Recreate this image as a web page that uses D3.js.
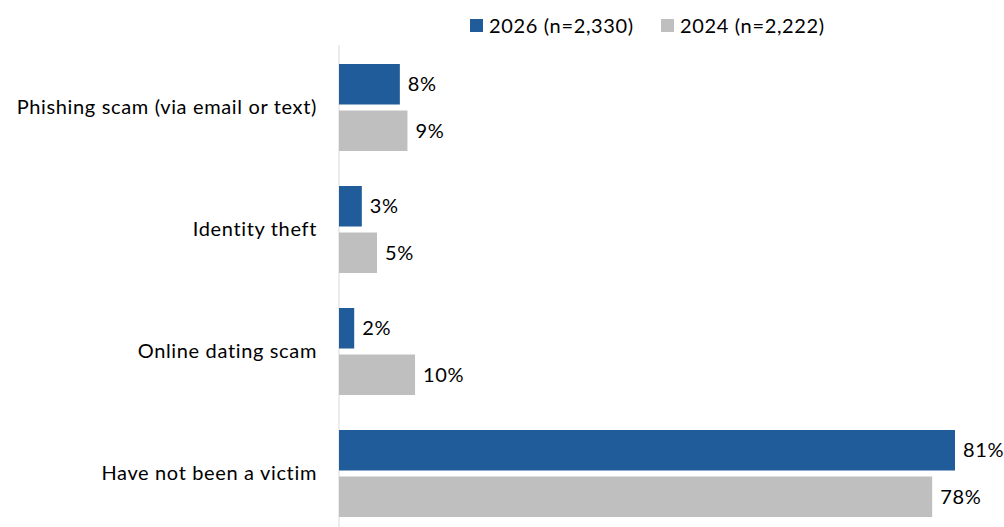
<!DOCTYPE html>
<html>
<head>
<meta charset="utf-8">
<script src="https://cdn.jsdelivr.net/npm/d3@7/dist/d3.min.js"></script>
<style>
  html, body { margin: 0; padding: 0; background: #fff; }
  svg { display: block; }
  text {
    font-family: Lato, "Open Sans", sans-serif;
    fill: #000;
    font-variant-ligatures: none;
    letter-spacing: 0.65px;
  }
</style>
</head>
<body>
<svg id="chart" width="1004" height="527"></svg>
<script>
// Survey categories and shares (%) per wave
const categories = [
  "Phishing scam (via email or text)",
  "Identity theft",
  "Online dating scam",
  "Have not been a victim"
];
const seriesNames = ["2026 (n=2,330)", "2024 (n=2,222)"];
const values2026 = [8, 3, 2, 81];
const values2024 = [9, 5, 10, 78];
const seriesColors = ["#1F5C99", "#BFBFBF"];

const rows = categories.map((c, i) => ({
  category: c,
  values: [
    { series: seriesNames[0], value: values2026[i], color: seriesColors[0] },
    { series: seriesNames[1], value: values2024[i], color: seriesColors[1] }
  ]
}));

const svg = d3.select("#chart");
const W = 1004, H = 527;

const x = d3.scaleLinear().domain([0, 100]).range([339, 339 + 760.5]);

const y0 = d3.scaleBand()
  .domain(categories)
  .range([46.5, 534.5])
  .paddingInner(0.287)
  .paddingOuter(0.1435);

const y1 = d3.scaleBand()
  .domain(seriesNames)
  .range([0, y0.bandwidth()])
  .paddingInner(0.129);

// Category axis: left labels only, no ticks
const yAxis = d3.axisLeft(y0).tickSize(0).tickPadding(22);
const gAxis = svg.append("g")
  .attr("transform", `translate(${x(0)},0)`)
  .call(yAxis);
gAxis.select(".domain").remove();
gAxis.selectAll("text")
  .style("font-family", "Lato, 'Open Sans', sans-serif")
  .style("font-size", "20px")
  .attr("fill", "#000");

// Baseline
svg.append("line")
  .attr("x1", x(0)).attr("x2", x(0))
  .attr("y1", 45).attr("y2", H)
  .attr("stroke", "#D9D9D9")
  .attr("stroke-width", 1);

const groups = svg.append("g").selectAll("g")
  .data(rows)
  .join("g")
  .attr("transform", d => `translate(0,${y0(d.category)})`);

groups.selectAll("rect")
  .data(d => d.values)
  .join("rect")
  .attr("x", x(0))
  .attr("y", d => y1(d.series))
  .attr("width", d => x(d.value) - x(0))
  .attr("height", y1.bandwidth())
  .attr("fill", d => d.color);

groups.selectAll("text.val")
  .data(d => d.values)
  .join("text")
  .attr("class", "val")
  .attr("x", d => x(d.value) + 8)
  .attr("y", d => y1(d.series) + y1.bandwidth() / 2)
  .attr("dy", "0.35em")
  .style("font-size", "20px")
  .text(d => d.value + "%");

// Legend
const legendItems = [
  { name: seriesNames[0], color: seriesColors[0], x: 470 },
  { name: seriesNames[1], color: seriesColors[1], x: 661 }
];
const legend = svg.append("g").selectAll("g")
  .data(legendItems)
  .join("g")
  .attr("transform", d => `translate(${d.x},19)`);
legend.append("rect")
  .attr("width", 13).attr("height", 13)
  .attr("fill", d => d.color);
legend.append("text")
  .attr("x", 19)
  .attr("y", 6.5)
  .attr("dy", "0.35em")
  .style("font-size", "20px")
  .text(d => d.name);
</script>
</body>
</html>
